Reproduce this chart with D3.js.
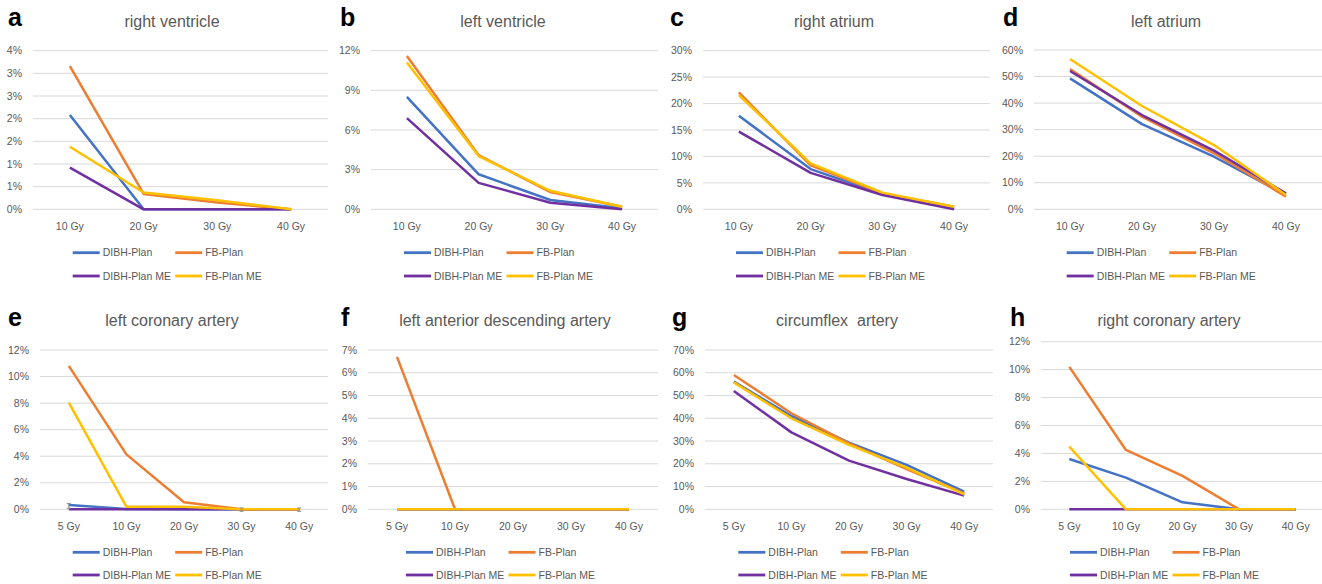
<!DOCTYPE html>
<html>
<head>
<meta charset="utf-8">
<script src="https://cdn.jsdelivr.net/npm/d3@7"></script>
<style>
  body { margin: 0; background: #fff; }
  svg { display: block; font-family: "Liberation Sans", Arial, sans-serif; }
</style>
</head>
<body>
<svg id="chart" width="1322" height="584"></svg>
<script>
// categories
const dosesTop = ["10 Gy", "20 Gy", "30 Gy", "40 Gy"];
const dosesBottom = ["5 Gy", "10 Gy", "20 Gy", "30 Gy", "40 Gy"];
const seriesNames = ["DIBH-Plan", "FB-Plan", "DIBH-Plan ME", "FB-Plan ME"];
const seriesColors = ["#4472C4", "#ED7D31", "#7030A0", "#FFC000"];

// values in %, order: DIBH-Plan, FB-Plan, DIBH-Plan ME, FB-Plan ME
const rvDibh = [2.08, 0, 0, 0];
const rvFb = [3.16, 0.34, 0.15, 0];
const rvDibhMe = [0.92, 0, 0, 0];
const rvFbMe = [1.38, 0.37, 0.2, 0];

const lvDibh = [8.5, 2.65, 0.7, 0.08];
const lvFb = [11.6, 4.1, 1.3, 0.2];
const lvDibhMe = [6.9, 2.0, 0.5, 0];
const lvFbMe = [11.1, 4.03, 1.4, 0.2];

const raDibh = [17.7, 7.6, 2.9, 0.2];
const raFb = [22.1, 8.3, 3.0, 0.5];
const raDibhMe = [14.7, 6.9, 2.7, 0];
const raFbMe = [21.6, 8.7, 3.15, 0.5];

const laDibh = [49.3, 32.1, 19.8, 5.4];
const laFb = [52.8, 34.9, 21.1, 4.8];
const laDibhMe = [52.1, 35.5, 22.1, 6.0];
const laFbMe = [56.6, 38.9, 24.2, 5.4];

const lcaDibh = [0.33, 0.03, 0, 0, 0];
const lcaFb = [10.8, 4.14, 0.53, 0, 0];
const lcaDibhMe = [0, 0, 0, 0, 0];
const lcaFbMe = [8.03, 0.2, 0.2, 0, 0];
const lcaErr = [0.1, 0, 0, 0.1, 0.1];

const ladDibh = [0, 0, 0, 0, 0];
const ladFb = [6.7, 0, 0, 0, 0];
const ladDibhMe = [0, 0, 0, 0, 0];
const ladFbMe = [0, 0, 0, 0, 0];

const cxDibh = [56.1, 41.0, 29.3, 19.5, 7.8];
const cxFb = [59.0, 42.2, 29.0, 17.7, 7.0];
const cxDibhMe = [52.0, 33.8, 21.4, 13.3, 6.0];
const cxFbMe = [55.8, 40.0, 28.3, 18.3, 6.6];

const rcaDibh = [3.6, 2.27, 0.5, 0, 0];
const rcaFb = [10.2, 4.25, 2.39, 0, 0];
const rcaDibhMe = [0, 0, 0, 0, 0];
const rcaFbMe = [4.49, 0, 0, 0, 0];

// panel layout
const panels = [
  { letter: "a", title: "right ventricle", cats: dosesTop, series: [rvDibh, rvFb, rvDibhMe, rvFbMe],
    yMax: 3.5, yStep: 0.5, x0: 33, x1: 328, yTop: 50.7, yBot: 209.3, tx: 172, lx: 72.7, letterX: 8 },
  { letter: "b", title: "left ventricle", cats: dosesTop, series: [lvDibh, lvFb, lvDibhMe, lvFbMe],
    yMax: 12, yStep: 3, x0: 371, x1: 658, yTop: 50.7, yBot: 209.3, tx: 503, lx: 404, letterX: 340 },
  { letter: "c", title: "right atrium", cats: dosesTop, series: [raDibh, raFb, raDibhMe, raFbMe],
    yMax: 30, yStep: 5, x0: 703, x1: 990, yTop: 50.7, yBot: 209.3, tx: 834, lx: 736, letterX: 670 },
  { letter: "d", title: "left atrium", cats: dosesTop, series: [laDibh, laFb, laDibhMe, laFbMe],
    yMax: 60, yStep: 10, x0: 1034, x1: 1322, yTop: 50, yBot: 209.3, tx: 1166, lx: 1066.7, letterX: 1003 },
  { letter: "e", title: "left coronary artery", cats: dosesBottom, series: [lcaDibh, lcaFb, lcaDibhMe, lcaFbMe],
    err: lcaErr, yMax: 12, yStep: 2, x0: 40, x1: 328, yTop: 350, yBot: 509.3, tx: 172, lx: 72.7, letterX: 8 },
  { letter: "f", title: "left anterior descending artery", cats: dosesBottom, series: [ladDibh, ladFb, ladDibhMe, ladFbMe],
    yMax: 7, yStep: 1, x0: 368, x1: 658, yTop: 350, yBot: 509.3, tx: 505, lx: 406, letterX: 341 },
  { letter: "g", title: "circumflex  artery", cats: dosesBottom, series: [cxDibh, cxFb, cxDibhMe, cxFbMe],
    yMax: 70, yStep: 10, x0: 705, x1: 993, yTop: 350, yBot: 509.3, tx: 837, lx: 738.3, letterX: 672 },
  { letter: "h", title: "right coronary artery", cats: dosesBottom, series: [rcaDibh, rcaFb, rcaDibhMe, rcaFbMe],
    yMax: 12, yStep: 2, x0: 1041, x1: 1324, yTop: 341.7, yBot: 509.3, tx: 1169, lx: 1070, letterX: 1010 }
];

const svg = d3.select("#chart");

panels.forEach((p, i) => {
  const row = i < 4 ? 0 : 1;
  const g = svg.append("g");

  const x = d3.scalePoint().domain(p.cats).range([p.x0, p.x1]).padding(0.5);
  const y = d3.scaleLinear().domain([0, p.yMax]).range([p.yBot, p.yTop]);
  const ticks = d3.range(0, p.yMax + p.yStep / 2, p.yStep);

  // gridlines
  g.selectAll(".grid").data(ticks).join("line")
    .attr("x1", p.x0).attr("x2", p.x1)
    .attr("y1", d => y(d)).attr("y2", d => y(d))
    .attr("stroke", "#d9d9d9").attr("stroke-width", 1);

  // y tick labels
  g.selectAll(".ylab").data(ticks).join("text")
    .attr("x", p.x0 - 11).attr("y", d => y(d))
    .attr("dy", "0.35em").attr("text-anchor", "end")
    .attr("font-size", 10.5).attr("fill", "#595959")
    .text(d => Math.round(d) + "%");

  // x tick labels
  g.selectAll(".xlab").data(p.cats).join("text")
    .attr("x", d => x(d)).attr("y", p.yBot + 21)
    .attr("text-anchor", "middle")
    .attr("font-size", 10.5).attr("fill", "#595959")
    .text(d => d);

  // lines
  const line = d3.line().x((d, j) => x(p.cats[j])).y(d => y(d));
  p.series.forEach((vals, s) => {
    g.append("path").datum(vals)
      .attr("fill", "none")
      .attr("stroke", seriesColors[s])
      .attr("stroke-width", 2.5)
      .attr("stroke-linejoin", "round")
      .attr("d", line);
  });

  // small error bars
  if (p.err) {
    p.err.forEach((e, j) => {
      if (!e) return;
      const cx = x(p.cats[j]);
      const v = p.series[0][j];
      g.append("path")
        .attr("d", `M${cx - 2},${y(v + e)}H${cx + 2}M${cx},${y(v + e)}V${y(Math.max(0, v - e)) + 2}M${cx - 2},${y(Math.max(0, v - e)) + 2}H${cx + 2}`)
        .attr("stroke", "#8c8c8c").attr("stroke-width", 1).attr("fill", "none");
    });
  }

  // title
  g.append("text")
    .attr("x", p.tx).attr("y", row === 0 ? 27 : 326)
    .attr("text-anchor", "middle")
    .attr("font-size", 16).attr("fill", "#595959")
    .attr("xml:space", "preserve")
    .style("white-space", "pre")
    .text(p.title);

  // panel letter
  g.append("text")
    .attr("x", p.letterX).attr("y", row === 0 ? 26 : 325.5)
    .attr("font-family", "Arial, 'Liberation Sans', sans-serif")
    .attr("font-weight", "bold").attr("font-size", 25).attr("fill", "#000")
    .text(p.letter);

  // legend
  const legY = row === 0 ? [252.7, 276] : [552.3, 575];
  seriesNames.forEach((name, s) => {
    const lx = p.lx + (s % 2) * 102.5;
    const ly = legY[Math.floor(s / 2)];
    g.append("line")
      .attr("x1", lx).attr("x2", lx + 27)
      .attr("y1", ly).attr("y2", ly)
      .attr("stroke", seriesColors[s]).attr("stroke-width", 2.8);
    g.append("text")
      .attr("x", lx + 30).attr("y", ly).attr("dy", "0.35em")
      .attr("font-size", 10.5).attr("fill", "#595959")
      .text(name);
  });
});
</script>
</body>
</html>
